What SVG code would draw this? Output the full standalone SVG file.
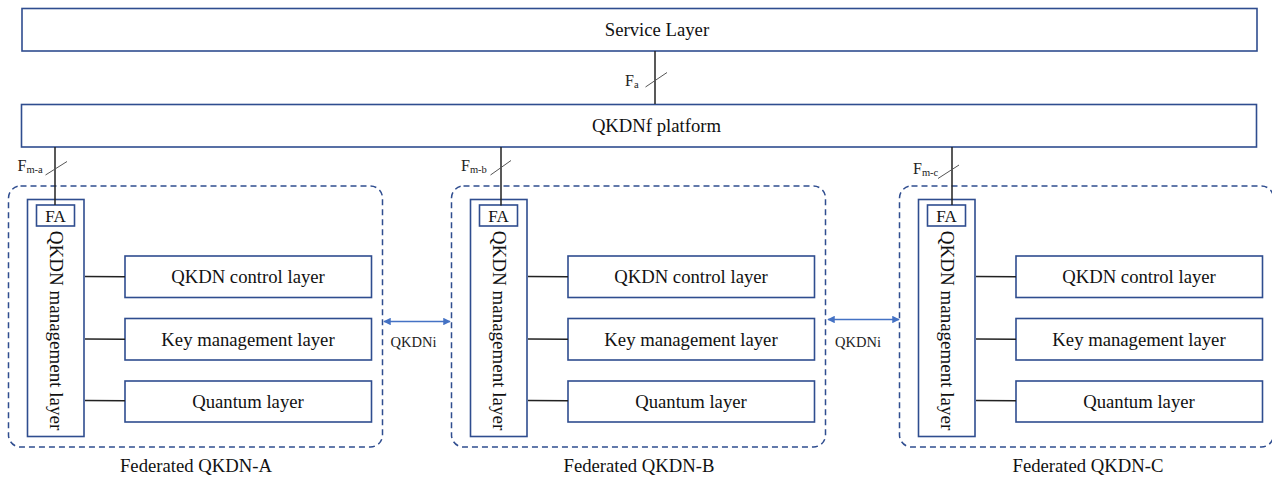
<svg xmlns="http://www.w3.org/2000/svg" width="1272" height="479" viewBox="0 0 1272 479">
<style>
.box{fill:#fff;stroke:#2f4d8f;stroke-width:1.6}
.dash{fill:none;stroke:#2f4d8f;stroke-width:1.5;stroke-dasharray:6 4}
.t{font-family:"Liberation Serif","Times New Roman",serif;font-size:18.7px;fill:#111;text-anchor:middle}
.fa{font-family:"Liberation Serif","Times New Roman",serif;font-size:17px;fill:#111;text-anchor:middle}
.lbl{font-family:"Liberation Serif","Times New Roman",serif;font-size:16px;fill:#222}
.sub{font-size:10.5px}
.ln{stroke:#222;stroke-width:1.5;fill:none}
.sl{stroke:#555;stroke-width:1;fill:none}
.arr{stroke:#4472c4;stroke-width:1.5;fill:none;marker-start:url(#ah);marker-end:url(#ah)}
.small{font-family:"Liberation Serif","Times New Roman",serif;font-size:14.5px;fill:#222;text-anchor:middle}
</style>
<defs>
<marker id="ah" viewBox="0 0 10 10" refX="9" refY="5" markerWidth="5" markerHeight="5" orient="auto-start-reverse">
<path d="M0,0 L10,5 L0,10 z" fill="#4472c4"/>
</marker>
<g id="fed">
<rect class="dash" x="8.5" y="186" width="374" height="261" rx="12"/>
<rect class="box" x="27.5" y="199.5" width="56.5" height="237"/>
<rect class="box" x="36.5" y="205" width="38" height="21"/>
<text class="fa" x="55.5" y="222">FA</text>
<text class="t" transform="translate(50 330.5) rotate(90)" x="0" y="0" style="font-size:19px">QKDN management layer</text>
<rect class="box" x="125" y="256" width="246.5" height="41.5"/>
<text class="t" x="248" y="283">QKDN control layer</text>
<rect class="box" x="125" y="318.5" width="246.5" height="41.5"/>
<text class="t" x="248" y="345.5">Key management layer</text>
<rect class="box" x="125" y="381" width="246.5" height="41"/>
<text class="t" x="248" y="408">Quantum layer</text>
<line class="ln" x1="85" y1="276.5" x2="125" y2="276.8"/>
<line class="ln" x1="85" y1="339" x2="125" y2="339.3"/>
<line class="ln" x1="85" y1="400.5" x2="125" y2="400.8"/>
</g>
</defs>
<g id="service-layer">
<rect class="box" x="22" y="8.5" width="1235" height="42.5"/>
<text class="t" x="657" y="36">Service Layer</text>
</g>
<g id="qkdnf-platform">
<rect class="box" x="21.5" y="104.5" width="1235" height="42.5"/>
<text class="t" x="656.5" y="132">QKDNf platform</text>
</g>
<g id="federated-a">
<use href="#fed"/>
<text class="t" x="196" y="472">Federated QKDN-A</text>
</g>
<g id="federated-b">
<use href="#fed" transform="translate(443 0)"/>
<text class="t" x="639" y="472">Federated QKDN-B</text>
</g>
<g id="federated-c">
<use href="#fed" transform="translate(891 0)"/>
<text class="t" x="1088" y="472">Federated QKDN-C</text>
</g>
<g id="connectors">
<line class="ln" x1="655" y1="51" x2="655" y2="104"/>
<line class="sl" x1="645.5" y1="87" x2="667" y2="72.5"/>
<text class="lbl" x="625" y="86">F<tspan class="sub" dy="2">a</tspan></text>
<line class="ln" x1="55" y1="147" x2="55" y2="205"/>
<line class="sl" x1="45.5" y1="175" x2="67" y2="161.5"/>
<text class="lbl" x="17.5" y="170.5">F<tspan class="sub" dy="2">m-a</tspan></text>
<line class="ln" x1="501" y1="147" x2="501" y2="205.5"/>
<line class="sl" x1="490.5" y1="175" x2="511" y2="160.5"/>
<text class="lbl" x="461" y="171">F<tspan class="sub" dy="2">m-b</tspan></text>
<line class="ln" x1="952" y1="147" x2="952" y2="205"/>
<line class="sl" x1="938" y1="178.5" x2="959" y2="165"/>
<text class="lbl" x="913" y="174">F<tspan class="sub" dy="2">m-c</tspan></text>
<line class="arr" x1="384" y1="321.5" x2="450" y2="321.5"/>
<text class="small" x="413.5" y="347">QKDNi</text>
<line class="arr" x1="828" y1="319.5" x2="899" y2="319.5"/>
<text class="small" x="858" y="347">QKDNi</text>
</g>
</svg>
